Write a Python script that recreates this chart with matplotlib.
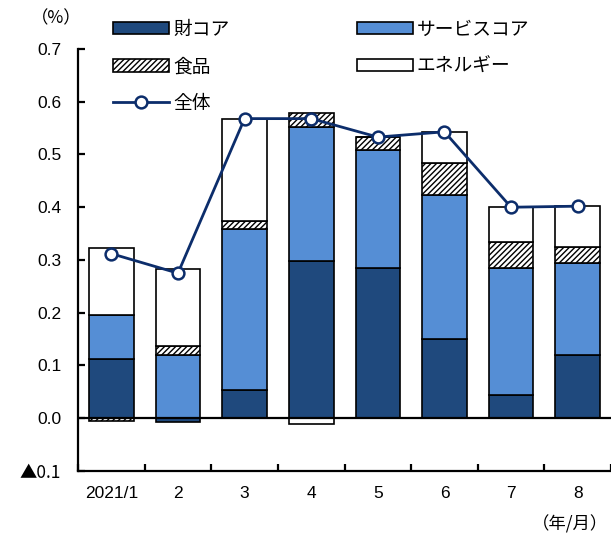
import matplotlib
matplotlib.use("Agg")
import matplotlib.pyplot as plt
import numpy as np
from matplotlib.patches import Patch
from matplotlib.lines import Line2D
from matplotlib.ticker import FixedLocator, FuncFormatter

plt.rcParams['font.family'] = ['Liberation Sans', 'Noto Sans CJK JP', 'DejaVu Sans']
plt.rcParams['hatch.linewidth'] = 1.0
CJK = ['Noto Sans CJK JP', 'DejaVu Sans']

months = ["2021/1", "2", "3", "4", "5", "6", "7", "8"]
goods_core = [0.112, -0.008, 0.053, 0.298, 0.284, 0.150, 0.044, 0.119]
service_core = [0.083, 0.120, 0.305, 0.254, 0.224, 0.274, 0.240, 0.175]
food = [-0.005, 0.016, 0.016, 0.027, 0.025, 0.060, 0.050, 0.031]
energy = [0.128, 0.146, 0.194, -0.010, 0.000, 0.059, 0.066, 0.077]
total = [0.312, 0.275, 0.568, 0.568, 0.533, 0.543, 0.400, 0.402]

names = ["財コア", "サービスコア", "食品", "エネルギー"]
styles = [
    dict(facecolor="#1F497D", hatch=None),
    dict(facecolor="#558ED5", hatch=None),
    dict(facecolor="white", hatch="//////"),
    dict(facecolor="white", hatch=None),
]

fig = plt.figure(figsize=(6.11, 5.36), dpi=100)
ax = fig.add_axes([0.1277, 0.1213, 0.8723, 0.7873])

x = np.arange(len(months))
width = 0.67
pos_base = np.zeros(len(months))
neg_base = np.zeros(len(months))
for series, st in zip([goods_core, service_core, food, energy], styles):
    vals = np.array(series)
    base = np.where(vals >= 0, pos_base, neg_base)
    ax.bar(x, vals, width, bottom=base, facecolor=st["facecolor"],
           hatch=st["hatch"], edgecolor="black", linewidth=1.2, zorder=2)
    pos_base = pos_base + np.where(vals >= 0, vals, 0)
    neg_base = neg_base + np.where(vals < 0, vals, 0)

ax.plot(x, total, color="#0C2D6B", linewidth=2.0, marker="o", markersize=8.5,
        markerfacecolor="white", markeredgecolor="#0C2D6B", markeredgewidth=1.8,
        zorder=4)

ax.axhline(0, color="black", linewidth=1.6, zorder=3)

ax.set_xlim(-0.5, len(months) - 0.5)
ax.set_ylim(-0.1, 0.7)
for s in ["top", "right"]:
    ax.spines[s].set_visible(False)
for s in ["left", "bottom"]:
    ax.spines[s].set_linewidth(1.6)

ax.yaxis.set_major_locator(FixedLocator(np.round(np.arange(-0.1, 0.71, 0.1), 1)))
ax.yaxis.set_major_formatter(FuncFormatter(
    lambda v, p: ("▲%.1f" % abs(v)) if v < -1e-9 else "%.1f" % abs(v)))
ax.tick_params(axis="y", direction="in", length=5, width=1.6, labelsize=12.5, pad=12)

ax.set_xticks(x)
ax.set_xticklabels(months, fontsize=12.5)
ax.set_xticks(np.arange(-0.5, len(months) - 0.4, 1), minor=True)
ax.tick_params(axis="x", which="major", length=0, pad=11)
ax.tick_params(axis="x", which="minor", direction="in", length=5, width=1.6)

# the negative label uses the CJK face so the triangle is full width
fig.canvas.draw()
for t in ax.get_yticklabels():
    if t.get_text().startswith("▲"):
        t.set_fontfamily(CJK)

fig.text(0.05, 0.966, "（%）", fontsize=12.5, ha="left", va="center", family=CJK)
fig.text(0.995, 0.022, "（年/月）", fontsize=12.5, ha="right", va="center", family=CJK)

h = [Patch(facecolor=st["facecolor"], hatch=st["hatch"], edgecolor="black",
           linewidth=1.2) for st in styles]
line_h = Line2D([], [], color="#0C2D6B", linewidth=2.0, marker="o", markersize=8.5,
                markerfacecolor="white", markeredgecolor="#0C2D6B",
                markeredgewidth=1.8)
handles = [h[0], h[2], line_h, h[1], h[3]]
labels = [names[0], names[2], "全体", names[1], names[3]]
fig.legend(handles, labels, loc="upper left", bbox_to_anchor=(0.185, 0.96),
           ncol=2, frameon=False, fontsize=13.5, handlelength=3.0,
           handleheight=0.65, handletextpad=0.2, labelspacing=1.05,
           columnspacing=6.8, borderaxespad=0, borderpad=0)

fig.savefig("out.png", dpi=100)
